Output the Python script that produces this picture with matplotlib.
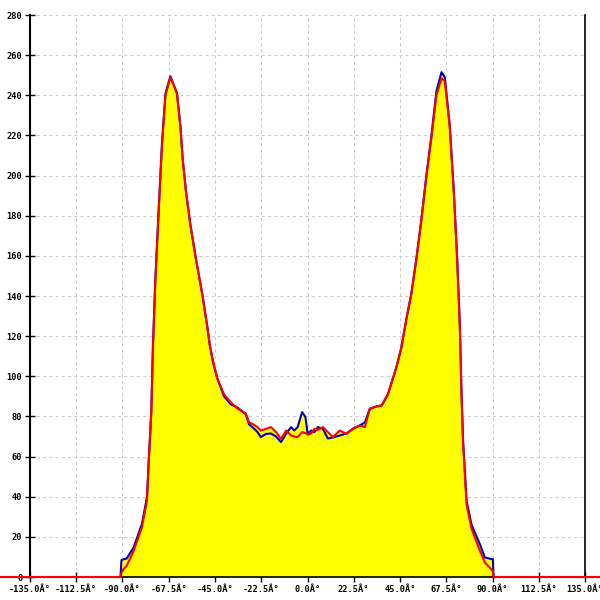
import matplotlib
matplotlib.use("Agg")
import matplotlib.pyplot as plt
import numpy as np

# angle grid (degrees) shared by both series
angles = [-160, -91, -90.5, -89.5, -88, -84.6, -80.6, -78.1, -77.3, -76, -75.2, -74,
          -72.4, -70.8, -69.1, -66.7, -63.5, -61.8, -60.7, -59, -56.9, -54.2,
          -51.2, -48.8, -47.6, -46, -43.9, -40.6, -37.3, -34.1, -30, -28.4,
          -26.8, -24.3, -22.7, -20.2, -17.8, -15.3, -12.9, -10.4, -8, -6.4,
          -4.8, -2.6, -1, 0.1, 1.8, 3.4, 5, 7.5, 9.9, 12.4, 15.7, 18.9, 22.2,
          25.4, 27.9, 30.3, 33.6, 36.1, 39.1, 43.1, 45.6, 48, 50.5, 52.9, 55.4,
          57.8, 60.3, 62.7, 65.2, 66.8, 69.2, 71.2, 72.8, 74.1, 74.9, 75.7,
          77.4, 79.8, 83.9, 86.3, 90.2, 90.5, 160]

red_vals = [0, 0, 2, 4, 5.5, 13, 24.7, 38, 56, 82, 114, 148,
            182, 215, 240, 249, 241, 224, 208, 191, 175, 158,
            141, 125, 116, 108, 99, 91, 87, 84, 81.5, 77,
            76.3, 74.7, 73, 73.8, 74.7, 72.2, 68.8, 73, 70.5, 70,
            69.7, 72.2, 71.7, 71, 71.5, 73.8, 73.3, 74.7, 72.2, 69.7, 73, 71.3, 73.8,
            75.5, 74.7, 83.8, 85, 85.5, 91, 104, 114, 128, 141, 158, 178,
            199, 219, 240, 248.5, 247, 224, 191, 158, 124, 91, 66,
            36, 24, 13, 7.2, 3, 0, 0]

blue_vals = [0, 0, 8.5, 8.8, 9.2, 14.7, 26.3, 39.7, 57, 82, 115, 149,
             183, 216, 241, 249.5, 241, 224, 208, 191, 175, 158,
             141, 125, 116, 107, 99, 90, 86, 84.5, 81, 76,
             74.7, 72.2, 69.7, 71.3, 71.5, 70, 67.2, 71.3, 74.7, 73,
             74.7, 82.2, 79.7, 71.3, 73, 72.2, 74.7, 73.8, 69, 69.5, 70.5, 71.5, 74,
             75.5, 77, 83.8, 85, 85.5, 91, 104, 114, 128, 141, 158, 178,
             200, 220, 242, 251.5, 249, 225, 192, 159, 126, 93, 68,
             38, 26, 16.3, 9.7, 8.8, 0, 0]

x_ticks = np.arange(-135, 135.1, 22.5)
y_ticks = np.arange(0, 281, 20)

x = np.array(angles)
red = np.array(red_vals)
blue = np.array(blue_vals)

mono = "DejaVu Sans Mono"

fig = plt.figure(figsize=(6, 6), dpi=100)
ax = fig.add_axes([0.05, 0.0383, 0.925, 0.9367])

ax.fill_between(x, 0, np.maximum(red, blue), color="#ffff00", lw=0, zorder=1)
ax.plot(x, blue, color="#0000cc", lw=1.5, zorder=6, clip_on=False)
ax.plot(x, red, color="#ff0000", lw=1.5, zorder=7, clip_on=False)

ax.set_xlim(-135, 135)
ax.set_ylim(0, 280)
ax.set_xticks(x_ticks)
ax.set_xticklabels([f"{v:.1f}Â°" for v in x_ticks], fontfamily=mono,
                   fontsize=6.2, fontweight="bold")
ax.set_yticks(y_ticks)
ax.set_yticklabels([str(v) for v in y_ticks], fontfamily=mono,
                   fontsize=6.2, fontweight="bold")
ax.tick_params(direction="inout", length=7, width=1, color="black", pad=2)

ax.set_axisbelow(True)
ax.grid(True, color="#cccccc", linestyle=(0, (3, 3)), lw=0.75)

ax.spines["top"].set_visible(False)
for side in ["left", "right", "bottom"]:
    ax.spines[side].set_zorder(5)
ax.spines["left"].set_linewidth(1.5)
ax.spines["right"].set_linewidth(1.2)
ax.spines["bottom"].set_linewidth(1.2)

fig.savefig("out.png", dpi=100)
